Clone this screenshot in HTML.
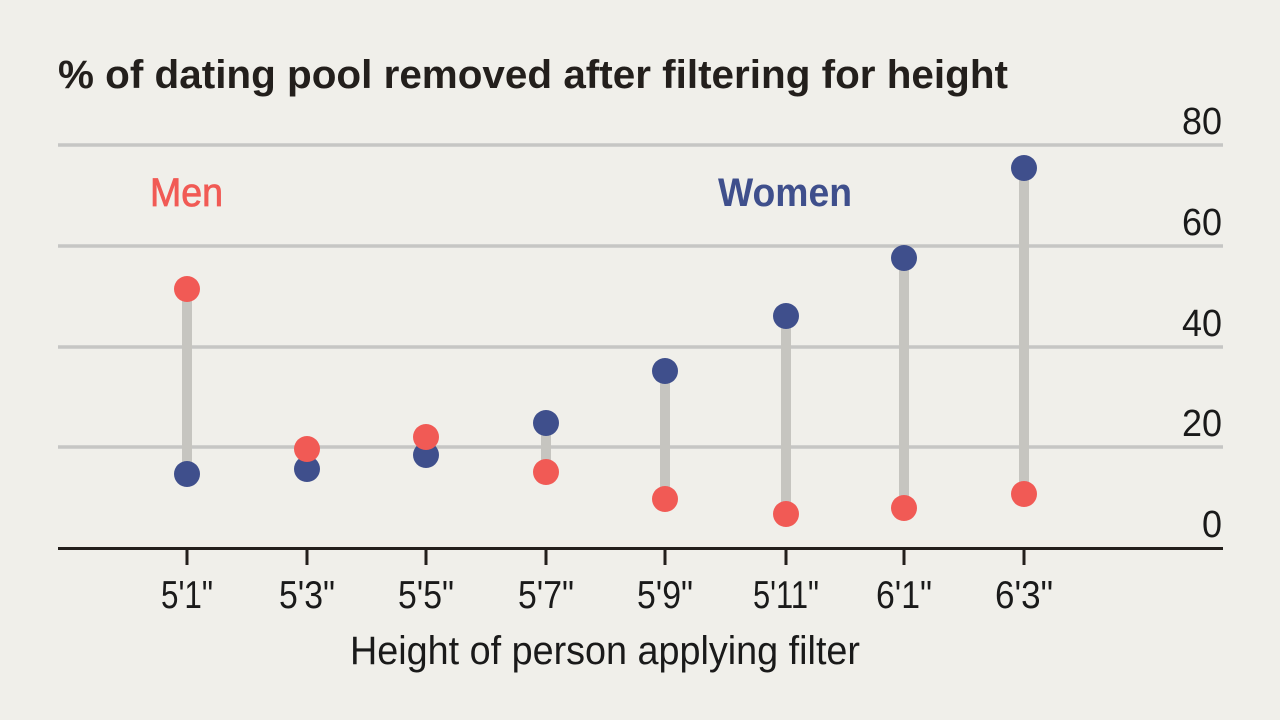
<!DOCTYPE html>
<html><head><meta charset="utf-8"><style>
html,body{margin:0;padding:0;background:#f0efea;}
svg{display:block;font-family:"Liberation Sans",sans-serif;}
</style></head><body>
<svg width="1280" height="720" viewBox="0 0 1280 720">
<rect width="1280" height="720" fill="#f0efea"/>
<text x="58" y="88" font-size="40" font-weight="bold" fill="#231f1c" textLength="950" lengthAdjust="spacingAndGlyphs">% of dating pool removed after filtering for height</text>
<g stroke="#c6c6c4" stroke-width="3.5">
<line x1="58" y1="145" x2="1223" y2="145"/>
<line x1="58" y1="246" x2="1223" y2="246"/>
<line x1="58" y1="347" x2="1223" y2="347"/>
<line x1="58" y1="447" x2="1223" y2="447"/>
</g>
<g font-size="38" fill="#1a1a1a" text-anchor="end">
<text x="1222" y="134" textLength="40" lengthAdjust="spacingAndGlyphs">80</text>
<text x="1222" y="235" textLength="40" lengthAdjust="spacingAndGlyphs">60</text>
<text x="1222" y="336" textLength="40" lengthAdjust="spacingAndGlyphs">40</text>
<text x="1222" y="436" textLength="40" lengthAdjust="spacingAndGlyphs">20</text>
<text x="1222" y="537" textLength="20" lengthAdjust="spacingAndGlyphs">0</text>
</g>
<line x1="58" y1="548.5" x2="1223" y2="548.5" stroke="#231f1c" stroke-width="3"/>
<g stroke="#231f1c" stroke-width="3">
<line x1="187" y1="548" x2="187" y2="565"/><line x1="307" y1="548" x2="307" y2="565"/>
<line x1="426" y1="548" x2="426" y2="565"/><line x1="546" y1="548" x2="546" y2="565"/>
<line x1="665" y1="548" x2="665" y2="565"/><line x1="786" y1="548" x2="786" y2="565"/>
<line x1="904" y1="548" x2="904" y2="565"/><line x1="1024" y1="548" x2="1024" y2="565"/>
</g>
<g font-size="39" fill="#1a1a1a" text-anchor="middle">
<text x="187" y="608" textLength="52" lengthAdjust="spacingAndGlyphs">5'1"</text>
<text x="307" y="608" textLength="56" lengthAdjust="spacingAndGlyphs">5'3"</text>
<text x="426" y="608" textLength="56" lengthAdjust="spacingAndGlyphs">5'5"</text>
<text x="546" y="608" textLength="56" lengthAdjust="spacingAndGlyphs">5'7"</text>
<text x="665" y="608" textLength="56" lengthAdjust="spacingAndGlyphs">5'9"</text>
<text x="786" y="608" textLength="66" lengthAdjust="spacingAndGlyphs">5'11"</text>
<text x="904" y="608" textLength="56" lengthAdjust="spacingAndGlyphs">6'1"</text>
<text x="1024" y="608" textLength="58" lengthAdjust="spacingAndGlyphs">6'3"</text>
<text x="605" y="664" font-size="40" textLength="510" lengthAdjust="spacingAndGlyphs">Height of person applying filter</text>
</g>
<g stroke="#c6c5c0" stroke-width="10">
<line x1="187" y1="289" x2="187" y2="474"/><line x1="307" y1="449" x2="307" y2="469"/>
<line x1="426" y1="437" x2="426" y2="455"/><line x1="546" y1="423" x2="546" y2="472"/>
<line x1="665" y1="371" x2="665" y2="499"/><line x1="786" y1="316" x2="786" y2="514"/>
<line x1="904" y1="258" x2="904" y2="508"/><line x1="1024" y1="168" x2="1024" y2="494"/>
</g>
<g fill="#3f4f8c">
<circle cx="187" cy="474" r="13"/><circle cx="307" cy="469" r="13"/><circle cx="426" cy="455" r="13"/>
<circle cx="546" cy="423" r="13"/><circle cx="665" cy="371" r="13"/><circle cx="786" cy="316" r="13"/>
<circle cx="904" cy="258" r="13"/><circle cx="1024" cy="168" r="13"/>
</g>
<g fill="#f15a55">
<circle cx="187" cy="289" r="13"/><circle cx="307" cy="449" r="13"/><circle cx="426" cy="437" r="13"/>
<circle cx="546" cy="472" r="13"/><circle cx="665" cy="499" r="13"/><circle cx="786" cy="514" r="13"/>
<circle cx="904" cy="508" r="13"/><circle cx="1024" cy="494" r="13"/>
</g>
<text x="150" y="206" font-size="40" fill="#f15a55" stroke="#f15a55" stroke-width="0.8" textLength="73" lengthAdjust="spacingAndGlyphs">Men</text>
<text x="718" y="206" font-size="40" font-weight="bold" fill="#3f4f8c" textLength="134" lengthAdjust="spacingAndGlyphs">Women</text>
</svg>
</body></html>
